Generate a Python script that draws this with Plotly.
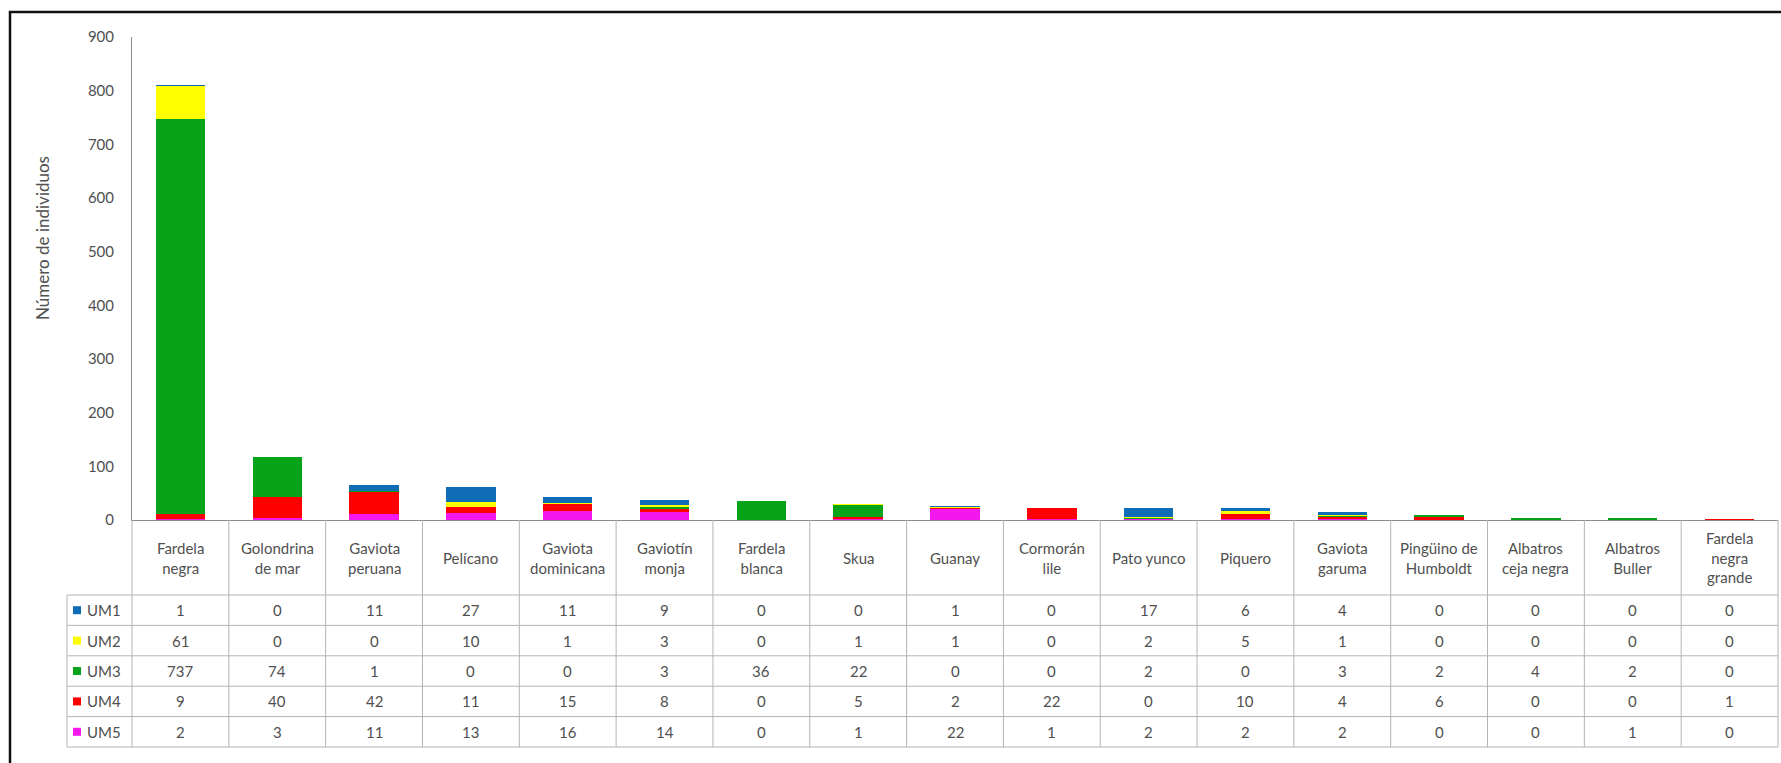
import plotly.graph_objects as go

categories = ["Fardela negra", "Golondrina de mar", "Gaviota peruana", "Pelícano",
              "Gaviota dominicana", "Gaviotín monja", "Fardela blanca", "Skua", "Guanay",
              "Cormorán lile", "Pato yunco", "Piquero", "Gaviota garuma",
              "Pingüino de Humboldt", "Albatros ceja negra", "Albatros Buller",
              "Fardela negra grande"]
header_labels = ["Fardela<br>negra", "Golondrina<br>de mar", "Gaviota<br>peruana", "Pelícano",
                 "Gaviota<br>dominicana", "Gaviotín<br>monja", "Fardela<br>blanca", "Skua",
                 "Guanay", "Cormorán<br>lile", "Pato yunco", "Piquero", "Gaviota<br>garuma",
                 "Pingüino de<br>Humboldt", "Albatros<br>ceja negra", "Albatros<br>Buller",
                 "Fardela<br>negra<br>grande"]

UM1 = [1, 0, 11, 27, 11, 9, 0, 0, 1, 0, 17, 6, 4, 0, 0, 0, 0]
UM2 = [61, 0, 0, 10, 1, 3, 0, 1, 1, 0, 2, 5, 1, 0, 0, 0, 0]
UM3 = [737, 74, 1, 0, 0, 3, 36, 22, 0, 0, 2, 0, 3, 2, 4, 2, 0]
UM4 = [9, 40, 42, 11, 15, 8, 0, 5, 2, 22, 0, 10, 4, 6, 0, 0, 1]
UM5 = [2, 3, 11, 13, 16, 14, 0, 1, 22, 1, 2, 2, 2, 0, 0, 1, 0]

series_names = ["UM1", "UM2", "UM3", "UM4", "UM5"]
series_values = [UM1, UM2, UM3, UM4, UM5]
series_colors = ["#0F6CB6", "#FFFF00", "#07A319", "#FF0000", "#F218EE"]

y_ticks = [0, 100, 200, 300, 400, 500, 600, 700, 800, 900]

W, H = 1781, 763
L, R, T, B = 132, 3, 37, 243
PW, PH = W - L - R, H - T - B
FONT = "Lato"
TXT = "#505050"
GRID = "#B4B4B4"


def px_x(px):
    return (px - L) / PW


def px_y(py):
    return (H - B - py) / PH


fig = go.Figure()
x_idx = list(range(len(categories)))
# stacking bottom -> top: UM5, UM4, UM3, UM2, UM1
for name, vals, col in reversed(list(zip(series_names, series_values, series_colors))):
    fig.add_trace(go.Bar(x=x_idx, y=vals, name=name, marker=dict(color=col, line=dict(width=0)),
                         showlegend=False))

shapes = []
annotations = []
n = len(categories)

# table geometry (pixels)
header_top, header_bot = 520, 595
row_h = 30.4
row_edges = [header_bot + i * row_h for i in range(len(series_names) + 1)]
legend_left = 67

# vertical grid lines
for i in range(n + 1):
    xp = i / n
    shapes.append(dict(type="line", xref="paper", yref="paper", x0=xp, x1=xp,
                       y0=px_y(header_top), y1=px_y(row_edges[-1]),
                       line=dict(color=GRID, width=1)))
# horizontal grid lines
for ye in row_edges:
    shapes.append(dict(type="line", xref="paper", yref="paper", x0=px_x(legend_left), x1=1,
                       y0=px_y(ye), y1=px_y(ye), line=dict(color=GRID, width=1)))
# legend column left edge
shapes.append(dict(type="line", xref="paper", yref="paper", x0=px_x(legend_left), x1=px_x(legend_left),
                   y0=px_y(row_edges[0]), y1=px_y(row_edges[-1]), line=dict(color=GRID, width=1)))

# header text
for i, lab in enumerate(header_labels):
    annotations.append(dict(x=i, xref="x", y=px_y((header_top + header_bot) / 2), yref="paper",
                            text=lab, showarrow=False, font=dict(family=FONT, size=15, color=TXT),
                            xanchor="center", yanchor="middle", align="center"))

# data rows
for r, (name, vals, col) in enumerate(zip(series_names, series_values, series_colors)):
    yc = (row_edges[r] + row_edges[r + 1]) / 2
    for i, v in enumerate(vals):
        annotations.append(dict(x=i, xref="x", y=px_y(yc), yref="paper", text=str(v),
                                showarrow=False, font=dict(family=FONT, size=15, color=TXT),
                                xanchor="center", yanchor="middle"))
    # legend key
    shapes.append(dict(type="rect", xref="paper", yref="paper", x0=px_x(73), x1=px_x(81),
                       y0=px_y(yc - 4), y1=px_y(yc + 4), fillcolor=col, line=dict(width=0)))
    annotations.append(dict(x=px_x(85), xref="paper", y=px_y(yc), yref="paper", text=name,
                            showarrow=False, font=dict(family=FONT, size=15, color=TXT),
                            xanchor="left", yanchor="middle"))

# y-axis title
annotations.append(dict(x=px_x(42), xref="paper", y=px_y(238), yref="paper",
                        text="Número de individuos", textangle=-90, showarrow=False,
                        font=dict(family=FONT, size=17, color=TXT),
                        xanchor="center", yanchor="middle"))

# outer frame
shapes.append(dict(type="rect", xref="paper", yref="paper", x0=px_x(10), x1=px_x(W + 20),
                   y0=px_y(H + 20), y1=px_y(12), line=dict(color="#111111", width=2.5),
                   fillcolor="rgba(0,0,0,0)", layer="above"))

fig.update_layout(
    barmode="stack",
    bargap=0.49,
    width=W, height=H,
    margin=dict(l=L, r=R, t=T, b=B),
    paper_bgcolor="white", plot_bgcolor="white",
    shapes=shapes, annotations=annotations,
    font=dict(family=FONT, color=TXT),
    xaxis=dict(range=[-0.5, n - 0.5], showticklabels=False, showgrid=False, zeroline=False,
               showline=True, linecolor="#8C8C8C", linewidth=1, ticks=""),
    yaxis=dict(range=[0, 900], tickvals=y_ticks, showgrid=False, zeroline=False,
               showline=True, linecolor="#8C8C8C", linewidth=1, ticks="",
               tickfont=dict(family=FONT, size=15, color="#505050"), ticklabelstandoff=14),
)

fig.write_html("out.html", config={"displayModeBar": False},
               post_script="document.body.style.margin='0';document.body.style.overflow='hidden';")
